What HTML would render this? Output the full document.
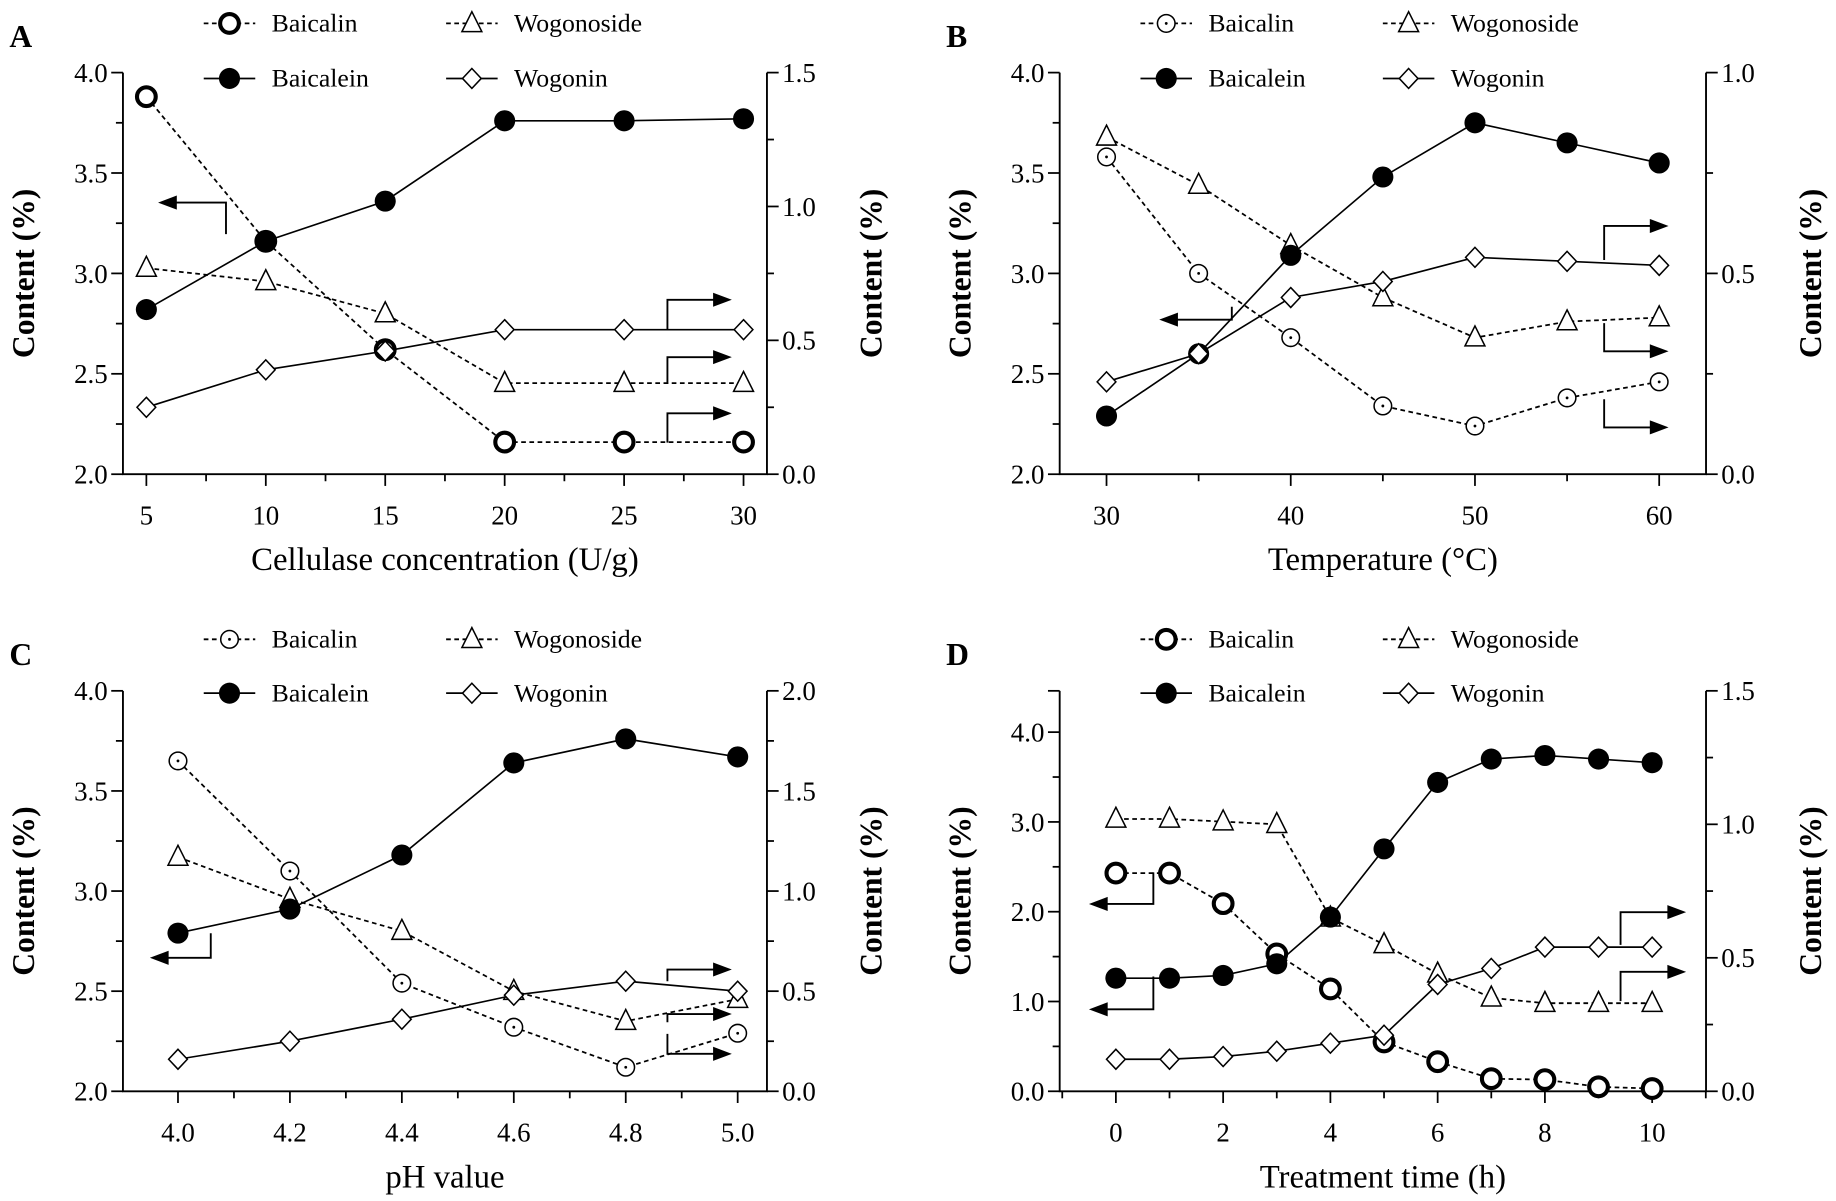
<!DOCTYPE html>
<html><head><meta charset="utf-8"><style>
html,body{margin:0;padding:0;background:#fff;}
svg{display:block;font-family:"Liberation Serif",serif;}
</style></head><body>
<svg id="fig" width="1836" height="1201" viewBox="0 0 1568 1025.7" preserveAspectRatio="none" xmlns="http://www.w3.org/2000/svg"></svg>
<script>
// ---- data ----
const xA = [5,10,15,20,25,30];
const baicalinA = [1.41,0.87,0.465,0.12,0.12,0.12];
const baicaleinA = [2.82,3.16,3.36,3.76,3.76,3.77];
const wogonosideA = [0.77,0.72,0.60,0.34,0.34,0.34];
const wogoninA = [0.25,0.39,0.46,0.54,0.54,0.54];
const xB = [30,35,40,45,50,55,60];
const baicalinB = [0.79,0.50,0.34,0.17,0.12,0.19,0.23];
const baicaleinB = [2.29,2.60,3.09,3.48,3.75,3.65,3.55];
const wogonosideB = [0.84,0.72,0.57,0.44,0.34,0.38,0.39];
const wogoninB = [0.23,0.30,0.44,0.48,0.54,0.53,0.52];
const xC = [4.0,4.2,4.4,4.6,4.8,5.0];
const baicalinC = [1.65,1.10,0.54,0.32,0.12,0.29];
const baicaleinC = [2.79,2.91,3.18,3.64,3.76,3.67];
const wogonosideC = [1.17,0.96,0.80,0.50,0.35,0.46];
const wogoninC = [0.16,0.25,0.36,0.48,0.55,0.50];
const xD = [0,1,2,3,4,5,6,7,8,9,10];
const baicalinD = [2.43,2.43,2.09,1.53,1.14,0.55,0.33,0.14,0.13,0.05,0.03];
const baicaleinD = [1.26,1.26,1.29,1.42,1.94,2.70,3.44,3.70,3.74,3.70,3.66];
const wogonosideD = [1.02,1.02,1.01,1.00,0.65,0.55,0.44,0.35,0.33,0.33,0.33];
const wogoninD = [0.12,0.12,0.13,0.15,0.18,0.21,0.40,0.46,0.54,0.54,0.54];
const xTicksA = [5,10,15,20,25,30], xTicksB=[30,40,50,60], xTicksC=[4.0,4.2,4.4,4.6,4.8,5.0], xTicksD=[0,2,4,6,8,10];

const NS="http://www.w3.org/2000/svg";
const svg=document.getElementById('fig');
function mk(tag,attrs,parent,txt){const e=document.createElementNS(NS,tag);for(const k in attrs)e.setAttribute(k,attrs[k]);if(txt!==undefined)e.textContent=txt;(parent||svg).appendChild(e);return e;}

const panels=[
 {id:'a',letter:'A',L:105,R:655,T:62,B:405,x:xA,xmin:5,xmax:30,px0:125,px1:635,xt:xTicksA,xminor:2.5,xdec:0,
  lmin:2,lmax:4,lstep:0.5,lminor:0.25,ldec:1,rmin:0,rmax:1.5,rstep:0.5,rminor:0.25,
  s:{bl:baicalinA,be:baicaleinA,wd:wogonosideA,wn:wogoninA},bold:true,xlabel:'Cellulase concentration (U/g)',
  arrows:[[193,200,173,135],[570,281,256,625],[570,328,305,625],[570,378,353,625]],leg:[20,67]},
 {id:'b',letter:'B',L:905,R:1457,T:62,B:405,x:xB,xmin:30,xmax:60,px0:945,px1:1417,xt:xTicksB,xminor:5,xdec:0,
  lmin:2,lmax:4,lstep:0.5,lminor:0.25,ldec:1,rmin:0,rmax:1.0,rstep:0.5,rminor:0.25,
  s:{bl:baicalinB,be:baicaleinB,wd:wogonosideB,wn:wogoninB},bold:false,xlabel:'Temperature (°C)',
  arrows:[[1052,262,273,990],[1370,222,193,1425],[1370,276,300,1425],[1370,341,365,1425]],leg:[20,67]},
 {id:'c',letter:'C',L:105,R:655,T:590,B:932,x:xC,xmin:4,xmax:5,px0:152,px1:630,xt:xTicksC,xminor:0.1,xdec:1,
  lmin:2,lmax:4,lstep:0.5,lminor:0.25,ldec:1,rmin:0,rmax:2.0,rstep:0.5,rminor:0.25,
  s:{bl:baicalinC,be:baicaleinC,wd:wogonosideC,wn:wogoninC},bold:false,xlabel:'pH value',
  arrows:[[180,797,818,128],[570,838,828,625],[570,873,866,625],[570,883,900,625]],leg:[546,592]},
 {id:'d',letter:'D',L:905,R:1457,T:590,B:932,x:xD,xmin:0,xmax:10,px0:953,px1:1411,xt:xTicksD,xminor:1,xdec:0,
  lmin:0,lmax:4.46,lstep:1,lminor:0.5,ldec:1,lticksmax:4,rmin:0,rmax:1.5,rstep:0.5,rminor:0.25,
  s:{bl:baicalinD,be:baicaleinD,wd:wogonosideD,wn:wogoninD},bold:true,xlabel:'Treatment time (h)',
  arrows:[[985,745,772,930],[985,834,862,930],[1384,807,779,1440],[1384,855,830,1440]],leg:[546,592]}
];

function marker(g,type,cx,cy,bold){
 if(type==='bl'){mk('circle',{cx,cy,r:bold?8:7.5,fill:'#fff',stroke:'#000','stroke-width':bold?3.5:1.3},g);
   if(!bold)mk('circle',{cx,cy,r:1.2,fill:'#000'},g);}
 else if(type==='be')mk('circle',{cx,cy,r:9,fill:'#000'},g);
 else if(type==='wd')mk('path',{d:`M${cx},${cy-10}L${cx+8.5},${cy+7}L${cx-8.5},${cy+7}Z`,fill:'#fff',stroke:'#000','stroke-width':1.3},g);
 else mk('path',{d:`M${cx},${cy-8.5}L${cx+8},${cy}L${cx},${cy+8.5}L${cx-8},${cy}Z`,fill:'#fff',stroke:'#000','stroke-width':1.3},g);
}

panels.forEach(p=>{
 const g=mk('g',{});
 
 
 const X=v=>p.px0+(v-p.xmin)/(p.xmax-p.xmin)*(p.px1-p.px0);
 const YL=v=>p.B-(v-p.lmin)/(p.lmax-p.lmin)*(p.B-p.T);
 const YR=v=>p.B-(v-p.rmin)/(p.rmax-p.rmin)*(p.B-p.T);
 const lt=mk('text',{x:p.L-97,y:p.T-22,'font-size':27,'font-weight':'bold'},g,p.letter);
 
 const ax=mk('path',{d:`M${p.L},${p.T}V${p.B}H${p.R}V${p.T}`,fill:'none',stroke:'#000','stroke-width':1.6},g);
 
 const lmaxT=p.lticksmax!==undefined?p.lticksmax:p.lmax;
 for(let v=p.lmin;v<=lmaxT+1e-9;v+=p.lminor){
  const y=YL(v);const major=Math.abs(v/p.lstep-Math.round(v/p.lstep))<1e-6;
  mk('line',{x1:p.L-(major?10:6),x2:p.L,y1:y,y2:y,stroke:'#000','stroke-width':1.5},g);
  if(major){const t=mk('text',{x:p.L-13,y:y+8,'font-size':23,'text-anchor':'end'},g,v.toFixed(p.ldec));
   }
 }
 if(p.lticksmax!==undefined) mk('line',{x1:p.L-10,x2:p.L,y1:p.T,y2:p.T,stroke:'#000','stroke-width':1.5},g);
 for(let v=p.rmin;v<=p.rmax+1e-9;v+=p.rminor){
  const y=YR(v);const major=Math.abs(v/p.rstep-Math.round(v/p.rstep))<1e-6;
  mk('line',{x1:p.R,x2:p.R+(major?10:6),y1:y,y2:y,stroke:'#000','stroke-width':1.5},g);
  if(major){const t=mk('text',{x:p.R+13,y:y+8,'font-size':23},g,v.toFixed(1));
   }
 }
 for(let v=p.xmin-p.xminor*(p.id==='c'||p.id==='d'?1:0);v<=p.xmax+p.xminor+1e-9;v+=p.xminor){
  const x=X(v); if(x<p.L||x>p.R)continue;
  const major=p.xt.some(t=>Math.abs(t-v)<1e-6);
  mk('line',{x1:x,x2:x,y1:p.B,y2:p.B+(major?10:6),stroke:'#000','stroke-width':1.5},g);
 }
 p.xt.forEach(v=>{const t=mk('text',{x:X(v),y:p.B+43,'font-size':23,'text-anchor':'middle'},g,v.toFixed(p.xdec));
   });
 const xl=mk('text',{x:(p.L+p.R)/2,y:p.B+82,'font-size':28,'text-anchor':'middle'},g,p.xlabel);
 
 const cy=(p.T+p.B)/2;
 const yl=mk('text',{x:p.L-76,y:cy,'font-size':27,'font-weight':'bold','text-anchor':'middle',transform:`rotate(-90 ${p.L-76} ${cy})`},g,'Content (%)');
 
 const yr=mk('text',{x:p.R+98,y:cy,'font-size':27,'font-weight':'bold','text-anchor':'middle',transform:`rotate(-90 ${p.R+98} ${cy})`},g,'Content (%)');
 
 const defs=[['bl',YR,true],['wd',YR,true],['be',YL,false],['wn',YR,false]];
 if(p.id==='d'){defs[0][1]=YL;}
 defs.forEach(([k,Y,dash])=>{
  const vals=p.s[k];const sg=mk('g',{},g);
  
  const pts=vals.map((v,i)=>X(p.x[i])+','+Y(v)).join(' ');
  mk('polyline',{points:pts,fill:'none',stroke:'#000','stroke-width':dash?1.5:1.4,'stroke-dasharray':dash?'4,3':'none'},sg);
  vals.forEach((v,i)=>marker(sg,k,X(p.x[i]),Y(v),p.bold));
 });
 p.arrows.forEach(a=>{const [vx,y0,y1,ex]=a;const dir=ex>vx?1:-1;
  const ag=mk('g',{},g);
  mk('path',{d:`M${vx},${y0}V${y1}H${ex-dir*14}`,fill:'none',stroke:'#000','stroke-width':1.6},ag);
  mk('path',{d:`M${ex},${y1}L${ex-dir*16},${y1-6}L${ex-dir*16},${y1+6}Z`,fill:'#000'},ag);});
 const off=p.L-105;const lg=mk('g',{},g);
 
 const items=[['bl','Baicalin',0,0,true],['wd','Wogonoside',1,0,true],['be','Baicalein',0,1,false],['wn','Wogonin',1,1,false]];
 items.forEach(([k,name,c,r,dash])=>{
  const cx=off+(c?403:196),y=p.leg[r];
  const e=mk('g',{},lg);
  mk('line',{x1:cx-22,x2:cx+22,y1:y,y2:y,stroke:'#000','stroke-width':1.5,'stroke-dasharray':dash?'4,3':'none'},e);
  marker(e,k,cx,y,p.bold);
  mk('text',{x:cx+36,y:y+7,'font-size':22},e,name);
 });
});
</script>
</body></html>
